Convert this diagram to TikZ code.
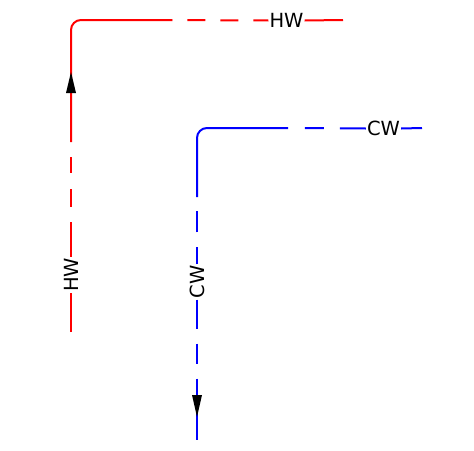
\documentclass[tikz,border=0pt]{standalone}
\usepackage{fontspec}
\setmainfont{DejaVu Sans}
\begin{document}
\begin{tikzpicture}[x=1pt,y=-1pt,
  hotline/.style={draw=red,line width=2pt},
  coldline/.style={draw=blue,line width=2pt},
  lbl/.style={inner xsep=1pt,inner ysep=1pt,font=\fontsize{19.5pt}{21pt}\selectfont,text=black},
  tip/.style={fill=black}]
\useasboundingbox (0,0) rectangle (474,450);
% ---------- hot water (red) ----------
\node[lbl,rotate=90] (hwv) at (71,275) {HW};
\node[lbl] (hwh) at (286.5,20.5) {HW};
\coordinate (rbot) at (71,332);
\coordinate (rdash) at (71,142);
\coordinate (rcorner) at (71,20);
\coordinate (rhdash) at (172,20);
\coordinate (rend) at (343,20);
\draw[hotline] (rbot) -- (hwv.west);
\draw[hotline,dash pattern=on 35pt off 15pt on 18pt off 16pt on 16pt off 15pt] (hwv.east) -- (rdash);
\draw[hotline,rounded corners=10pt] (rdash) -- (rcorner) -- (rhdash);
\draw[hotline,dash pattern=on 15pt off 15pt on 18pt off 15pt on 18pt off 15pt] (hwh.west) -- (rhdash);
\draw[hotline] (hwh.east) -- (rend);
\coordinate (rtip) at (71,72);
\fill[tip] (rtip) -- ++(-5,21) -- ++(10,0) -- cycle;
% ---------- cold water (blue) ----------
\node[lbl] (cwh) at (383.5,128.5) {CW};
\node[lbl,rotate=90] (cwv) at (197,282) {CW};
\coordinate (bend) at (422,128);
\coordinate (bhdash) at (288,128);
\coordinate (bcorner) at (197,128);
\coordinate (bvdash) at (197,197);
\coordinate (bbot) at (197,440);
\draw[coldline] (cwh.east) -- (bend);
\draw[coldline,dash pattern=on 26pt off 16pt on 19pt off 17pt] (cwh.west) -- (bhdash);
\draw[coldline,rounded corners=10pt] (bhdash) -- (bcorner) -- (bvdash);
\draw[coldline,dash pattern=on 17pt off 15pt on 21pt off 15pt] (cwv.east) -- (bvdash);
\draw[coldline,dash pattern=on 29pt off 15pt on 20pt off 15pt on 80pt] (cwv.west) -- (bbot);
\coordinate (btip) at (197,417);
\fill[tip] (btip) -- ++(-5,-22) -- ++(10,0) -- cycle;
\end{tikzpicture}
\end{document}
